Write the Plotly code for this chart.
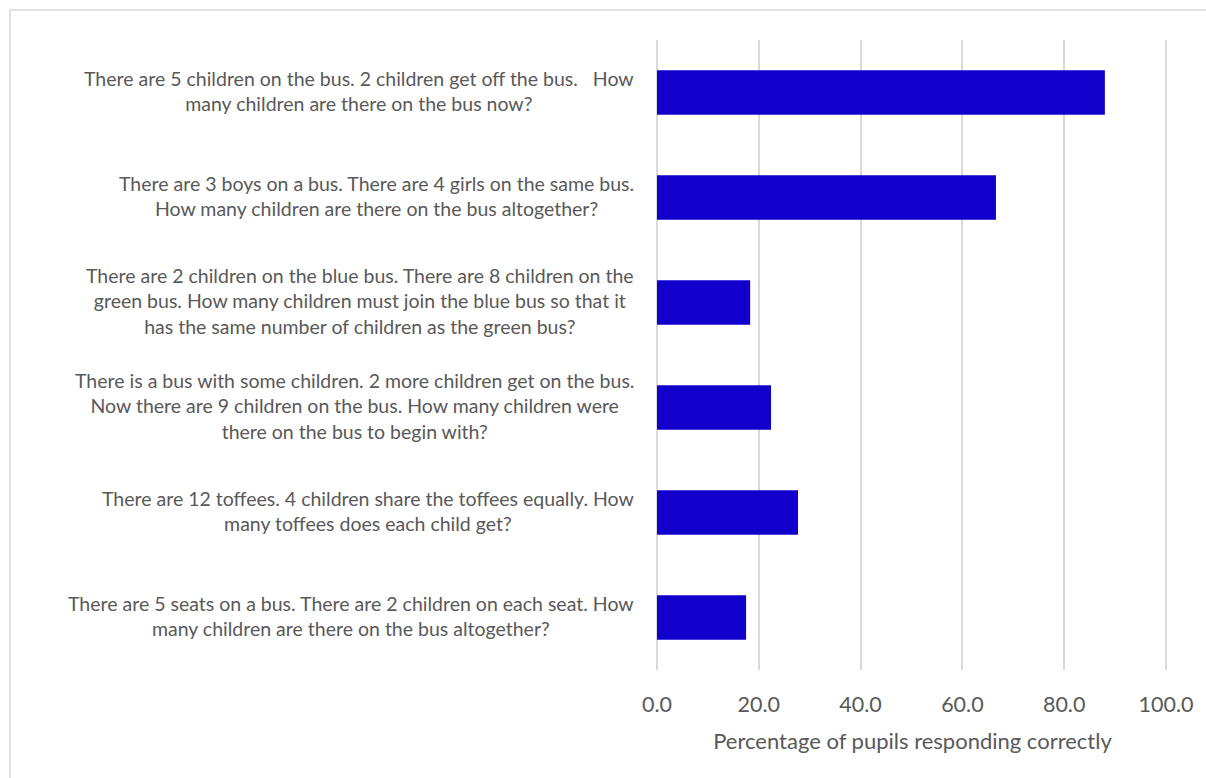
import plotly.graph_objects as go

questions = [
    ["There are 5 children on the bus. 2 children get off the bus.   How", "many children are there on the bus now?"],
    ["There are 3 boys on a bus. There are 4 girls on the same bus.", "How many children are there on the bus altogether?"],
    ["There are 2 children on the blue bus. There are 8 children on the", "green bus. How many children must join the blue bus so that it", "has the same number of children as the green bus?"],
    ["There is a bus with some children. 2 more children get on the bus.", "Now there are 9 children on the bus. How many children were", "there on the bus to begin with?"],
    ["There are 12 toffees. 4 children share the toffees equally. How", "many toffees does each child get?"],
    ["There are 5 seats on a bus. There are 2 children on each seat. How", "many children are there on the bus altogether?"],
]
percent_correct = [88.0, 66.6, 18.3, 22.4, 27.7, 17.5]
x_ticks = [0, 20, 40, 60, 80, 100]
x_tick_labels = ["0.0", "20.0", "40.0", "60.0", "80.0", "100.0"]
x_title = "Percentage of pupils responding correctly"

categories = [f"q{i}" for i in range(len(questions))]

W, H = 1206, 778
L, R, T, B = 656, 37, 40, 108
FONT = "Lato, Carlito, Calibri, 'Open Sans', sans-serif"
TXT = "#595959"
GRID = "#D9D9D9"

fig = go.Figure(go.Bar(
    x=percent_correct, y=categories, orientation="h",
    marker=dict(color="#1100CC", line=dict(width=0)),
    hoverinfo="x",
))

annotations = []
for cat, lines in zip(categories, questions):
    annotations.append(dict(
        x=0, xref="x", y=cat, yref="y",
        text="<br>".join(lines), showarrow=False,
        xanchor="right", yanchor="middle", xshift=-21, yshift=2, align="center",
        font=dict(family=FONT, size=19.5, color=TXT),
    ))

plot_w = W - L - R
plot_h = H - T - B
shapes = [dict(
    type="rect", xref="paper", yref="paper",
    x0=(10 - L) / plot_w, x1=(1215 - L) / plot_w,
    y0=(H - B - 790) / plot_h, y1=(H - B - 10) / plot_h,
    line=dict(color=GRID, width=1.5), fillcolor="rgba(0,0,0,0)", layer="below",
)]

fig.update_layout(
    width=W, height=H,
    margin=dict(l=L, r=R, t=T, b=B, pad=0),
    paper_bgcolor="white", plot_bgcolor="white",
    showlegend=False, bargap=0.575,
    annotations=annotations, shapes=shapes,
    xaxis=dict(
        range=[-0.2, 100.6], tickvals=x_ticks, ticktext=x_tick_labels,
        showgrid=True, gridcolor=GRID, gridwidth=1.5,
        zeroline=True, zerolinecolor=GRID, zerolinewidth=1.5,
        showline=False, ticks="", ticklabelstandoff=19,
        tickfont=dict(family=FONT, size=21.5, color=TXT),
        title=dict(text=x_title, font=dict(family=FONT, size=22, color=TXT), standoff=18),
        fixedrange=True,
    ),
    yaxis=dict(
        categoryorder="array", categoryarray=categories, autorange="reversed",
        showticklabels=False, showgrid=False, zeroline=False, showline=False, ticks="",
        fixedrange=True,
    ),
)

fig.write_html("out.html", config={"displayModeBar": False})
